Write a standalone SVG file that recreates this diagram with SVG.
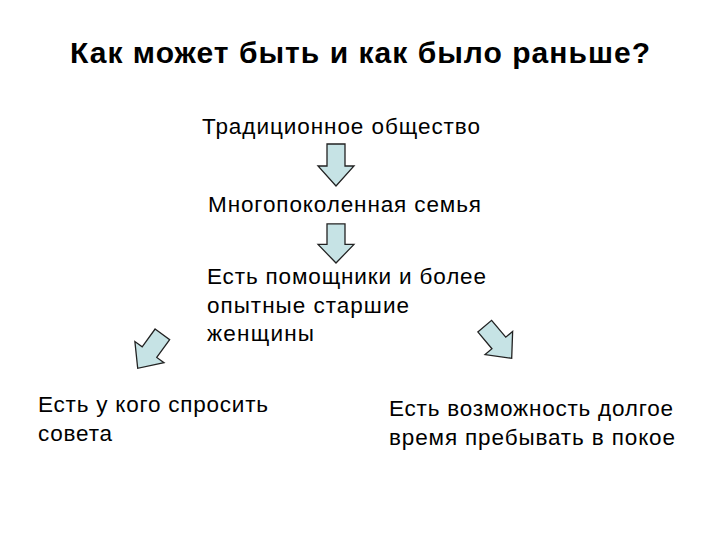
<svg xmlns="http://www.w3.org/2000/svg" width="720" height="540" viewBox="0 0 720 540">
<style>
.t{font-family:"Liberation Sans",Arial,sans-serif;font-size:22.5px;fill:#000}
.h{font-family:"Liberation Sans",Arial,sans-serif;font-size:30px;font-weight:bold;fill:#000}
.a{fill:#c6e3e5;stroke:#222;stroke-width:1.3;stroke-linejoin:miter}
</style>
<defs>
<path id="arr" d="M-9,-42 L9,-42 L9,-20 L18,-20 L0,0 L-18,-20 L-9,-20 Z"/>
</defs>
<rect width="720" height="540" fill="#fff"/>
<text class="h" x="70" y="63" textLength="580">Как может быть и как было раньше?</text>
<g id="n1"><text class="t" x="202" y="134" textLength="278">Традиционное общество</text></g>
<g id="n2"><text class="t" x="208" y="212" textLength="273">Многопоколенная семья</text></g>
<g id="n3"><text class="t" x="207" y="284" textLength="279">Есть помощники и более</text><text class="t" x="207" y="312.5" textLength="202">опытные старшие</text><text class="t" x="207" y="341" textLength="107">женщины</text></g>
<g id="n4"><text class="t" x="38" y="412" textLength="230">Есть у кого спросить</text><text class="t" x="38" y="440.5" textLength="74">совета</text></g>
<g id="n5"><text class="t" x="389" y="416" textLength="284">Есть возможность долгое</text><text class="t" x="389" y="445" textLength="286">время пребывать в покое</text></g>
<g id="connectors">
<use href="#arr" class="a" transform="translate(336,186)"/>
<use href="#arr" class="a" transform="translate(336,263) scale(1,0.93)"/>
<use href="#arr" class="a" transform="translate(137.7,368.3) rotate(36)"/>
<use href="#arr" class="a" transform="translate(511.7,358.3) rotate(-40)"/>
</g>
</svg>
